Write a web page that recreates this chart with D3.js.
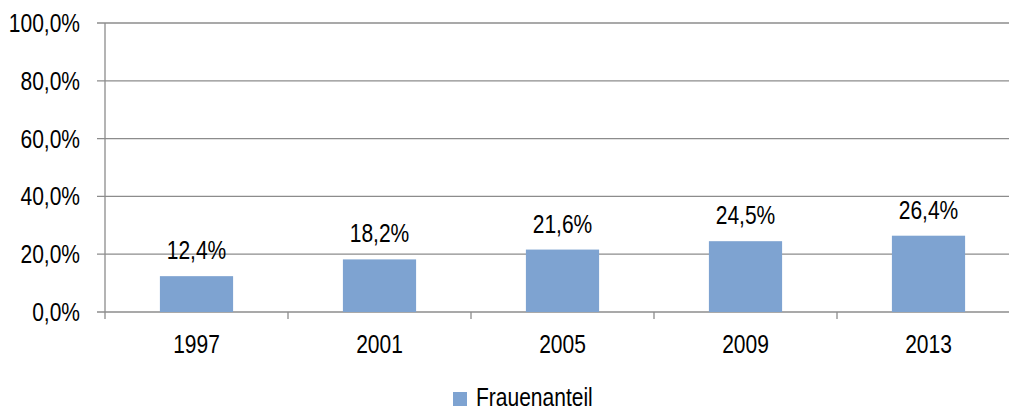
<!DOCTYPE html>
<html>
<head>
<meta charset="utf-8">
<script src="https://cdn.jsdelivr.net/npm/d3@7"></script>
<style>
  body { margin: 0; background: #fff; }
  svg text { font-family: "Liberation Sans", Arial, sans-serif; fill: #000; font-size: 21px; }
</style>
</head>
<body>
<svg id="chart" width="1009" height="408"></svg>
<script>
let years = ['1997', '2001', '2005', '2009', '2013'];
let shares = [12.4, 18.2, 21.6, 24.5, 26.4];
let yTicks = [0, 20, 40, 60, 80, 100];
let seriesName = 'Frauenanteil';

let svg = d3.select('#chart');
let plotLeft = 105, plotRight = 1020, plotTop = 23, plotBottom = 312;
let stretch = 1.25; // text in the original is stretched vertically
let fmt = v => d3.format('.1f')(v).replace('.', ',') + '%';
let place = (px, py) => 'translate(' + px + ',' + py + ') scale(1,' + stretch + ')';

let x = d3.scaleBand().domain(years).range([plotLeft, plotRight]).paddingInner(0.6).paddingOuter(0.3);
let xTick = d3.scaleBand().domain(years).range([plotLeft, plotRight]);
let y = d3.scaleLinear().domain([0, 100]).range([plotBottom, plotTop]);

// gridlines
svg.append('g')
   .selectAll('line')
   .data(yTicks)
   .enter()
   .append('line')
   .attr('x1', plotLeft - 8)
   .attr('x2', plotRight)
   .attr('y1', d => y(d))
   .attr('y2', d => y(d))
   .attr('stroke', '#8c8c8c')
   .attr('stroke-width', 1.3);

// y axis
svg.append('line')
   .attr('x1', plotLeft).attr('x2', plotLeft)
   .attr('y1', plotTop).attr('y2', plotBottom + 7)
   .attr('stroke', '#8c8c8c')
   .attr('stroke-width', 1.3);

svg.append('g')
   .selectAll('text')
   .data(yTicks)
   .enter()
   .append('text')
   .attr('transform', d => place(80, y(d) + 9))
   .attr('text-anchor', 'end')
   .text(d => fmt(d));

// x tick marks between categories
svg.append('g')
   .selectAll('line')
   .data(years.slice(1))
   .enter()
   .append('line')
   .attr('x1', d => xTick(d))
   .attr('x2', d => xTick(d))
   .attr('y1', plotBottom)
   .attr('y2', plotBottom + 7)
   .attr('stroke', '#8c8c8c')
   .attr('stroke-width', 1.3);

svg.append('g')
   .selectAll('text')
   .data(years)
   .enter()
   .append('text')
   .attr('transform', d => place(x(d) + x.bandwidth() / 2, plotBottom + 41))
   .attr('text-anchor', 'middle')
   .text(d => d);

// bars
svg.append('g')
   .selectAll('rect')
   .data(years)
   .enter()
   .append('rect')
   .attr('x', d => x(d))
   .attr('width', x.bandwidth())
   .attr('y', (d, i) => y(shares[i]))
   .attr('height', (d, i) => plotBottom - y(shares[i]))
   .attr('fill', '#7ea3d1');

// data labels
svg.append('g')
   .selectAll('text')
   .data(years)
   .enter()
   .append('text')
   .attr('transform', (d, i) => place(x(d) + x.bandwidth() / 2, y(shares[i]) - 17))
   .attr('text-anchor', 'middle')
   .text((d, i) => fmt(shares[i]));

// legend
let legend = svg.append('g').attr('transform', 'translate(453,392)');
legend.append('rect')
      .attr('width', 14)
      .attr('height', 14)
      .attr('fill', '#7ea3d1');
legend.append('text')
      .attr('transform', place(23, 14))
      .text(seriesName);
</script>
</body>
</html>
